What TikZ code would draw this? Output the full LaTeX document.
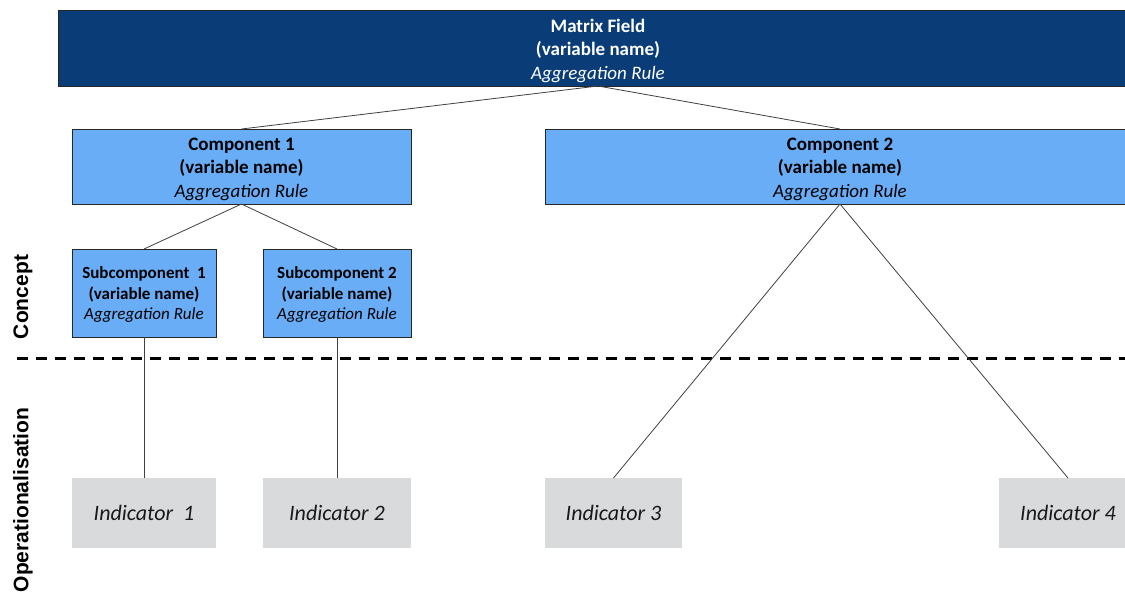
\documentclass[tikz,border=0pt]{standalone}
\usepackage{fontspec}
\setmainfont{Carlito}
\newfontfamily\lblfont{Liberation Sans}
\definecolor{darkblue}{HTML}{0A3C78}
\definecolor{lightblue}{HTML}{6AADF7}
\definecolor{indgray}{HTML}{D9DADC}
\definecolor{linegray}{HTML}{404040}
\begin{document}
\begin{tikzpicture}[x=1pt,y=-1pt,
  box/.style={draw=black!85, line width=0.9pt, inner sep=0pt, outer sep=0pt},
  topbox/.style={box, fill=darkblue},
  compbox/.style={box, fill=lightblue},
  indbox/.style={fill=indgray, inner sep=0pt, outer sep=0pt, text=black!90, font=\fontsize{22}{26}\selectfont\itshape},
  bigtext/.style={align=center, inner sep=0pt, font=\fontsize{19}{23.5}\selectfont},
  smalltext/.style={align=center, inner sep=0pt, font=\fontsize{17}{20.5}\selectfont},
  conn/.style={draw=linegray, line width=0.8pt},
  sidelabel/.style={font=\lblfont\bfseries\fontsize{21}{25}\selectfont, rotate=90}
]
\useasboundingbox (0,0) rectangle (1125,595);
\fill[white] (0,0) rectangle (1125,595);

% Matrix field
\node[topbox, minimum width=1080pt, minimum height=76pt] (mf) at (598,48) {};
\node[bigtext, text=white] (mft) at ([yshift=-2.5pt]mf.center) {\textbf{Matrix Field}\\\textbf{(variable name)}\\\textit{Aggregation Rule}};

% Components
\node[compbox, minimum width=339pt, minimum height=75pt] (c1) at (241.5,166.5) {};
\node[bigtext] (c1t) at ([yshift=-2.5pt]c1.center) {\textbf{Component 1}\\\textbf{(variable name)}\\\textit{Aggregation Rule}};
\node[compbox, minimum width=590pt, minimum height=75pt] (c2) at (840,166.5) {};
\node[bigtext] (c2t) at ([yshift=-2.5pt]c2.center) {\textbf{Component 2}\\\textbf{(variable name)}\\\textit{Aggregation Rule}};

% Subcomponents
\node[compbox, minimum width=144pt, minimum height=88pt] (s1) at (144,293) {};
\node[smalltext] (s1t) at ([yshift=-1.5pt]s1.center) {\textbf{Subcomponent\ \ 1}\\\textbf{(variable name)}\\\textit{Aggregation Rule}};
\node[compbox, minimum width=148pt, minimum height=88pt] (s2) at (337,293) {};
\node[smalltext] (s2t) at ([yshift=-1.5pt]s2.center) {\textbf{Subcomponent 2}\\\textbf{(variable name)}\\\textit{Aggregation Rule}};

% Indicators
\node[indbox, minimum width=144pt, minimum height=70pt] (i1) at (144,513) {Indicator\ \ 1};
\node[indbox, minimum width=148pt, minimum height=70pt] (i2) at (337,513) {Indicator 2};
\node[indbox, minimum width=137pt, minimum height=70pt] (i3) at (613.5,513) {Indicator 3};
\node[indbox, minimum width=138pt, minimum height=70pt] (i4) at (1068,513) {Indicator 4};

% Dashed separator
\coordinate (dl) at (17,358.5);
\coordinate (dr) at (1125,358.5);
\draw[line width=3pt, dash pattern=on 11pt off 8pt] (dl) -- (dr);

% Connectors
\draw[conn] (mf.south) -- (c1.north);
\draw[conn] (mf.south) -- (c2.north);
\draw[conn] (c1.south) -- (s1.north);
\draw[conn] (c1.south) -- (s2.north);
\draw[conn] (s1.south) -- (i1.north);
\draw[conn] (s2.south) -- (i2.north);
\draw[conn] (c2.south) -- (i3.north);
\draw[conn] (c2.south) -- (i4.north);

% Side labels
\node[sidelabel] (concept) at (23,297) {Concept};
\node[sidelabel] (oper) at (23,500) {Operationalisation};
\end{tikzpicture}
\end{document}
